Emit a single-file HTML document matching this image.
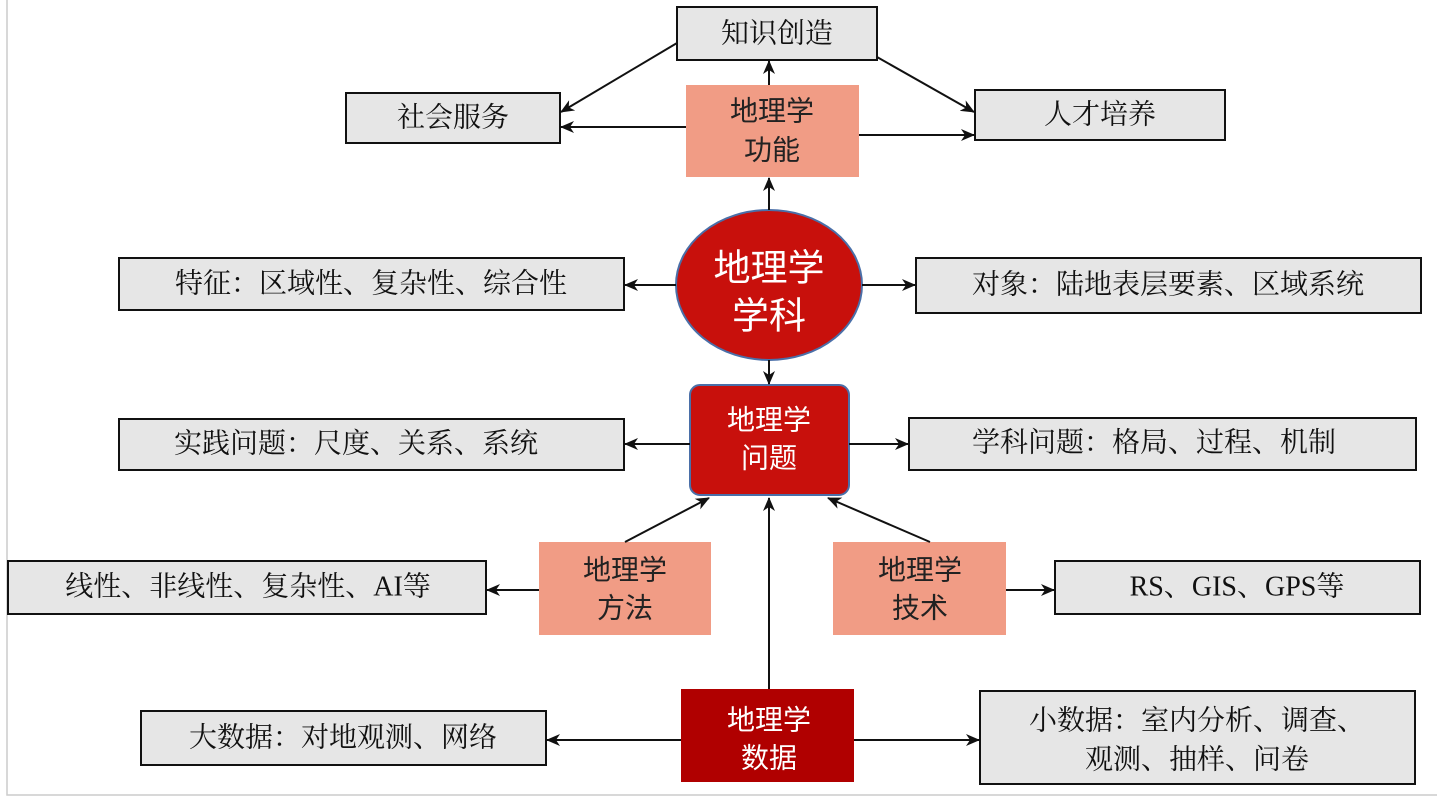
<!DOCTYPE html>
<html><head><meta charset="utf-8"><style>
body{margin:0;background:#fff}
text{font-family:"Liberation Serif","Noto Serif CJK SC",serif;font-size:28px;fill:#111;text-anchor:middle;dominant-baseline:central}
.w{font-family:"Liberation Sans","Noto Sans CJK SC",sans-serif;fill:#fff}
.s{font-family:"Liberation Sans","Noto Sans CJK SC",sans-serif;fill:#222}
.g{fill:#e6e6e6;stroke:#111;stroke-width:2}
.p{fill:#f19c85}
line{stroke:#111;stroke-width:2;marker-end:url(#a)}
</style></head><body>
<svg width="1437" height="802" viewBox="0 0 1437 802">
<defs><marker id="a" markerWidth="14" markerHeight="12" refX="13" refY="6" orient="auto" markerUnits="userSpaceOnUse"><path d="M0,0 L14,6 L0,12 L4,6z" fill="#111"/></marker></defs>
<path d="M7,0 V795 H1437" fill="none" stroke="#ccc" stroke-width="1.5"/>
<rect class="g" x="677" y="7" width="200" height="53"/><text x="777" y="34">知识创造</text>
<rect class="g" x="346" y="93" width="214" height="50"/><text x="453" y="118">社会服务</text>
<rect class="g" x="975" y="90" width="250" height="50"/><text x="1100" y="115">人才培养</text>
<rect class="p" x="686" y="85" width="173" height="92"/><text class="s" x="772" y="111">地理学</text><text class="s" x="772" y="150">功能</text>
<ellipse cx="769" cy="285" rx="93" ry="75" fill="#c8100c" stroke="#4a6fa8" stroke-width="2"/>
<text class="w" x="769" y="268" style="font-size:37px">地理学</text><text class="w" x="769" y="316" style="font-size:37px">学科</text>
<rect class="g" x="119" y="258" width="505" height="52"/><text x="371" y="284">特征：区域性、复杂性、综合性</text>
<rect class="g" x="916" y="258" width="505" height="55"/><text x="1168" y="285">对象：陆地表层要素、区域系统</text>
<rect x="690" y="385" width="159" height="110" rx="10" fill="#c8100c" stroke="#4a6fa8" stroke-width="2"/>
<text class="w" x="769" y="420">地理学</text><text class="w" x="769" y="458">问题</text>
<rect class="g" x="119" y="419" width="505" height="51"/><text x="356" y="444">实践问题：尺度、关系、系统</text>
<rect class="g" x="909" y="418" width="507" height="52"/><text x="1154" y="443">学科问题：格局、过程、机制</text>
<rect class="p" x="539" y="542" width="172" height="93"/><text class="s" x="625" y="570">地理学</text><text class="s" x="625" y="608">方法</text>
<rect class="g" x="8" y="561" width="478" height="53"/><text x="248" y="587">线性、非线性、复杂性、AI等</text>
<rect class="p" x="833" y="542" width="173" height="93"/><text class="s" x="920" y="570">地理学</text><text class="s" x="920" y="608">技术</text>
<rect class="g" x="1055" y="561" width="365" height="53"/><text x="1237" y="587">RS、GIS、GPS等</text>
<rect x="681" y="689" width="173" height="93" fill="#b00000"/><text class="w" x="769" y="720">地理学</text><text class="w" x="769" y="758">数据</text>
<rect class="g" x="141" y="711" width="405" height="54"/><text x="343" y="738">大数据：对地观测、网络</text>
<rect class="g" x="980" y="691" width="435" height="93"/><text x="1197" y="721">小数据：室内分析、调查、</text><text x="1197" y="760">观测、抽样、问卷</text>
<line x1="769" y1="85" x2="769" y2="61"/>
<line x1="677" y1="43" x2="561" y2="112"/>
<line x1="877" y1="57" x2="974" y2="112"/>
<line x1="686" y1="127" x2="561" y2="127"/>
<line x1="859" y1="135" x2="974" y2="135"/>
<line x1="769" y1="210" x2="769" y2="178"/>
<line x1="676" y1="285" x2="625" y2="285"/>
<line x1="862" y1="285" x2="915" y2="285"/>
<line x1="769" y1="360" x2="769" y2="384"/>
<line x1="690" y1="444" x2="625" y2="444"/>
<line x1="849" y1="444" x2="908" y2="444"/>
<line x1="625" y1="542" x2="709" y2="498"/>
<line x1="930" y1="542" x2="828" y2="498"/>
<line x1="769" y1="689" x2="769" y2="498"/>
<line x1="539" y1="590" x2="487" y2="590"/>
<line x1="1006" y1="590" x2="1054" y2="590"/>
<line x1="681" y1="740" x2="547" y2="740"/>
<line x1="854" y1="740" x2="979" y2="740"/>
</svg>
</body></html>
